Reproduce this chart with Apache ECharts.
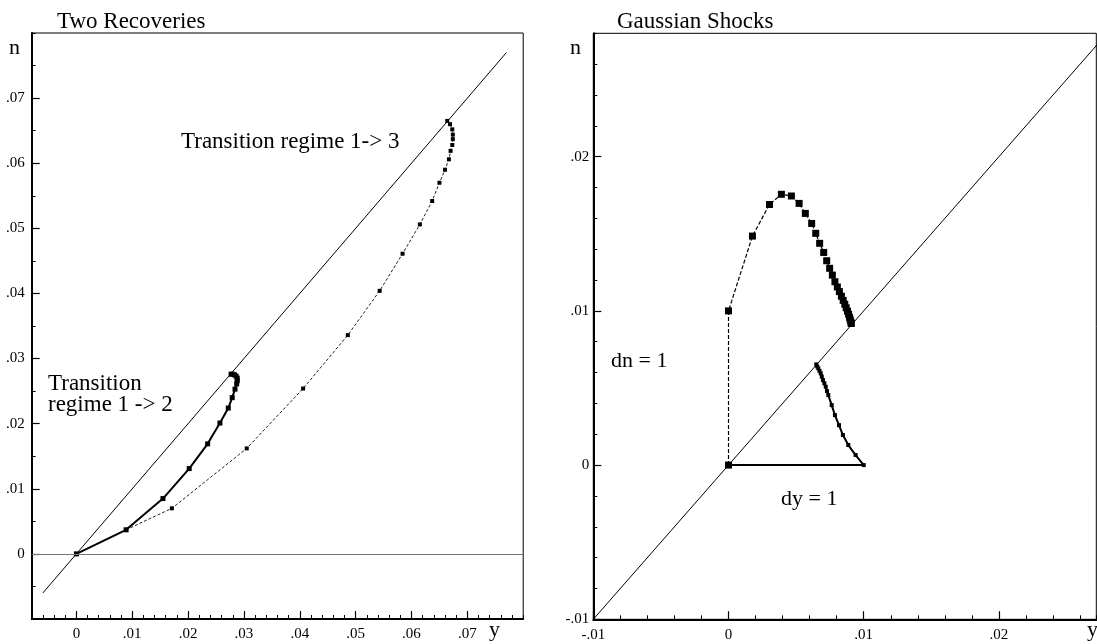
<!DOCTYPE html>
<html>
<head>
<meta charset="utf-8">
<script src="https://cdn.jsdelivr.net/npm/echarts@6/dist/echarts.min.js"></script>
<style>
  html, body { margin: 0; padding: 0; background: #fff; }
  #chart { width: 1097px; height: 644px; }
</style>
</head>
<body>
<div id="chart"></div>
<script>
// ---- Left panel: Two Recoveries ----
const leftXTicks = [0, 0.01, 0.02, 0.03, 0.04, 0.05, 0.06, 0.07];
const leftYTicks = [0, 0.01, 0.02, 0.03, 0.04, 0.05, 0.06, 0.07];
const leftDiagonal = [[-0.006, -0.006], [0.077, 0.077]];

// Regime 1 -> 2 recovery path (solid)
const regime12 = [
  [0, 0], [0.0089, 0.0037], [0.0155, 0.0085], [0.0202, 0.0131], [0.0235, 0.0169],
  [0.0257, 0.0201], [0.0272, 0.0224], [0.0279, 0.0240], [0.0284, 0.0253],
  [0.0287, 0.0261], [0.0288, 0.0266], [0.0288, 0.0270], [0.0286, 0.0273],
  [0.0283, 0.0275], [0.0280, 0.0276], [0.0277, 0.0276]
];

// Regime 1 -> 3 recovery path (dashed)
const regime13 = [
  [0, 0], [0.0089, 0.0037], [0.0171, 0.0070], [0.0305, 0.0162], [0.0406, 0.0254],
  [0.0486, 0.0336], [0.0543, 0.0404], [0.0584, 0.0461], [0.0615, 0.0506],
  [0.0637, 0.0542], [0.0650, 0.0570], [0.0660, 0.0590], [0.0667, 0.0606],
  [0.0670, 0.0619], [0.0673, 0.0628], [0.0674, 0.0637], [0.0674, 0.0644],
  [0.0673, 0.0652], [0.0669, 0.0660], [0.0664, 0.0665]
];

// ---- Right panel: Gaussian Shocks ----
const rightXTicks = [-0.01, 0, 0.01, 0.02];
const rightYTicks = [-0.01, 0, 0.01, 0.02];
const rightDiagonal = [[-0.01, -0.01], [0.03, 0.03]];

// dn = 1 shock path (dashed, large markers)
const shockDn = [
  [0, 0], [0, 0.0100], [0.00177, 0.01485], [0.00303, 0.0169], [0.00391, 0.01756],
  [0.00465, 0.01745], [0.00522, 0.01697], [0.00568, 0.01632], [0.00615, 0.01567],
  [0.00645, 0.01503], [0.00674, 0.01438], [0.00704, 0.01379], [0.00726, 0.01325],
  [0.00748, 0.01276], [0.00768, 0.01232], [0.00787, 0.01189], [0.00805, 0.01155],
  [0.00820, 0.01125], [0.00835, 0.01095], [0.00848, 0.01068], [0.00860, 0.01043],
  [0.00870, 0.01020], [0.00880, 0.00998], [0.00888, 0.00978], [0.00895, 0.00958],
  [0.00900, 0.00942], [0.00905, 0.00928], [0.00908, 0.00918]
];

// dy = 1 shock path (solid, small markers)
const shockDy = [
  [0, 0], [0.0100, 0], [0.0094, 0.00065], [0.00886, 0.0013], [0.00846, 0.00195],
  [0.00817, 0.00259], [0.00787, 0.00324], [0.00763, 0.00389], [0.00738, 0.00454],
  [0.00728, 0.00480], [0.00719, 0.00508], [0.00709, 0.00530], [0.00699, 0.00551],
  [0.00690, 0.00573], [0.00682, 0.00595], [0.00673, 0.00611], [0.00664, 0.00627],
  [0.00656, 0.00640], [0.00649, 0.00653]
];

const FONT = '"Liberation Serif", "DejaVu Serif", serif';

function tickFmt(v) {
  if (Math.abs(v) < 1e-9) return '0';
  const s = String(+v.toFixed(4));
  return s.replace('0.', '.');
}

function majorAxis(dim, gridIndex, min, max, ticks, margin) {
  return {
    type: 'value', gridIndex, min, max,
    position: dim === 'x' ? 'bottom' : 'left',
    axisLine: { show: true, onZero: false, lineStyle: { color: '#000', width: 2 } },
    axisTick: { show: true, inside: true, length: 8, customValues: ticks, lineStyle: { color: '#000', width: 1.2 } },
    axisLabel: { show: true, customValues: ticks, formatter: tickFmt, fontFamily: FONT, fontSize: 15, color: '#000', margin },
    splitLine: { show: false }
  };
}

function minorAxis(dim, gridIndex, min, max, interval) {
  return {
    type: 'value', gridIndex, min, max, interval,
    position: dim === 'x' ? 'bottom' : 'left',
    axisLine: { show: false, onZero: false },
    axisTick: { show: true, inside: true, length: 4, lineStyle: { color: '#000', width: 1 } },
    axisLabel: { show: false },
    splitLine: { show: false }
  };
}

const chart = echarts.init(document.getElementById('chart'), null, { renderer: 'canvas' });

const lineBase = { type: 'line', animation: false, silent: true };

chart.setOption({
  animation: false,
  backgroundColor: '#fff',
  grid: [
    { left: 31.7, top: 33, width: 491.5, height: 586, show: true, borderColor: '#000', borderWidth: 1, backgroundColor: 'transparent' },
    { left: 593.3, top: 33.3, width: 503, height: 586, show: true, borderColor: '#000', borderWidth: 1, backgroundColor: 'transparent' }
  ],
  xAxis: [
    majorAxis('x', 0, -0.008, 0.08, leftXTicks, 8),
    minorAxis('x', 0, -0.008, 0.08, 0.002),
    majorAxis('x', 1, -0.01, 0.0272, rightXTicks, 8),
    minorAxis('x', 1, -0.01, 0.0272, 0.002)
  ],
  yAxis: [
    majorAxis('y', 0, -0.01, 0.08, leftYTicks, 7),
    minorAxis('y', 0, -0.01, 0.08, 0.005),
    majorAxis('y', 1, -0.01, 0.028, rightYTicks, 4),
    minorAxis('y', 1, -0.01, 0.028, 0.002)
  ],
  series: [
    // left panel
    Object.assign({}, lineBase, {
      name: 'diagonal', xAxisIndex: 0, yAxisIndex: 0, data: leftDiagonal,
      showSymbol: false, symbol: 'none', lineStyle: { color: '#000', width: 1 },
      markLine: {
        silent: true, symbol: 'none', label: { show: false },
        lineStyle: { color: '#777', width: 1, type: 'solid' },
        data: [{ yAxis: 0 }]
      }
    }),
    Object.assign({}, lineBase, {
      name: 'regime 1-3', xAxisIndex: 0, yAxisIndex: 0, data: regime13,
      symbol: 'rect', symbolSize: 4, itemStyle: { color: '#000' },
      lineStyle: { color: '#222', width: 1, type: [3, 2] }
    }),
    Object.assign({}, lineBase, {
      name: 'regime 1-2', xAxisIndex: 0, yAxisIndex: 0, data: regime12,
      symbol: 'rect', symbolSize: 5, itemStyle: { color: '#000' },
      lineStyle: { color: '#000', width: 2 }
    }),
    // right panel
    Object.assign({}, lineBase, {
      name: 'diagonal', xAxisIndex: 2, yAxisIndex: 2, data: rightDiagonal,
      showSymbol: false, symbol: 'none', clip: true, lineStyle: { color: '#000', width: 1 }
    }),
    Object.assign({}, lineBase, {
      name: 'dy = 1', xAxisIndex: 2, yAxisIndex: 2, data: shockDy,
      symbol: 'rect', symbolSize: 4, itemStyle: { color: '#000' },
      lineStyle: { color: '#000', width: 2 }
    }),
    Object.assign({}, lineBase, {
      name: 'dn = 1', xAxisIndex: 2, yAxisIndex: 2, data: shockDn,
      symbol: 'rect', symbolSize: 7, itemStyle: { color: '#000' },
      lineStyle: { color: '#000', width: 1.2, type: [4, 2] }
    })
  ],
  graphic: [
    { type: 'text', left: 57, top: 10, style: { text: 'Two Recoveries', font: '23px ' + FONT, fill: '#000' } },
    { type: 'text', left: 617, top: 10, style: { text: 'Gaussian Shocks', font: '23px ' + FONT, fill: '#000' } },
    { type: 'text', left: 9, top: 37, style: { text: 'n', font: '22px ' + FONT, fill: '#000' } },
    { type: 'text', left: 570, top: 37, style: { text: 'n', font: '22px ' + FONT, fill: '#000' } },
    { type: 'text', left: 489, top: 619, style: { text: 'y', font: '22px ' + FONT, fill: '#000' } },
    { type: 'text', left: 1087, top: 619, style: { text: 'y', font: '22px ' + FONT, fill: '#000' } },
    { type: 'text', left: 181, top: 130, style: { text: 'Transition regime 1-> 3', font: '23px ' + FONT, fill: '#000' } },
    { type: 'text', left: 48, top: 372, style: { text: 'Transition\nregime 1 -> 2', font: '23px ' + FONT, lineHeight: 21, fill: '#000' } },
    { type: 'text', left: 611, top: 350, style: { text: 'dn = 1', font: '22px ' + FONT, fill: '#000' } },
    { type: 'text', left: 781, top: 488, style: { text: 'dy = 1', font: '22px ' + FONT, fill: '#000' } }
  ]
});
</script>
</body>
</html>
